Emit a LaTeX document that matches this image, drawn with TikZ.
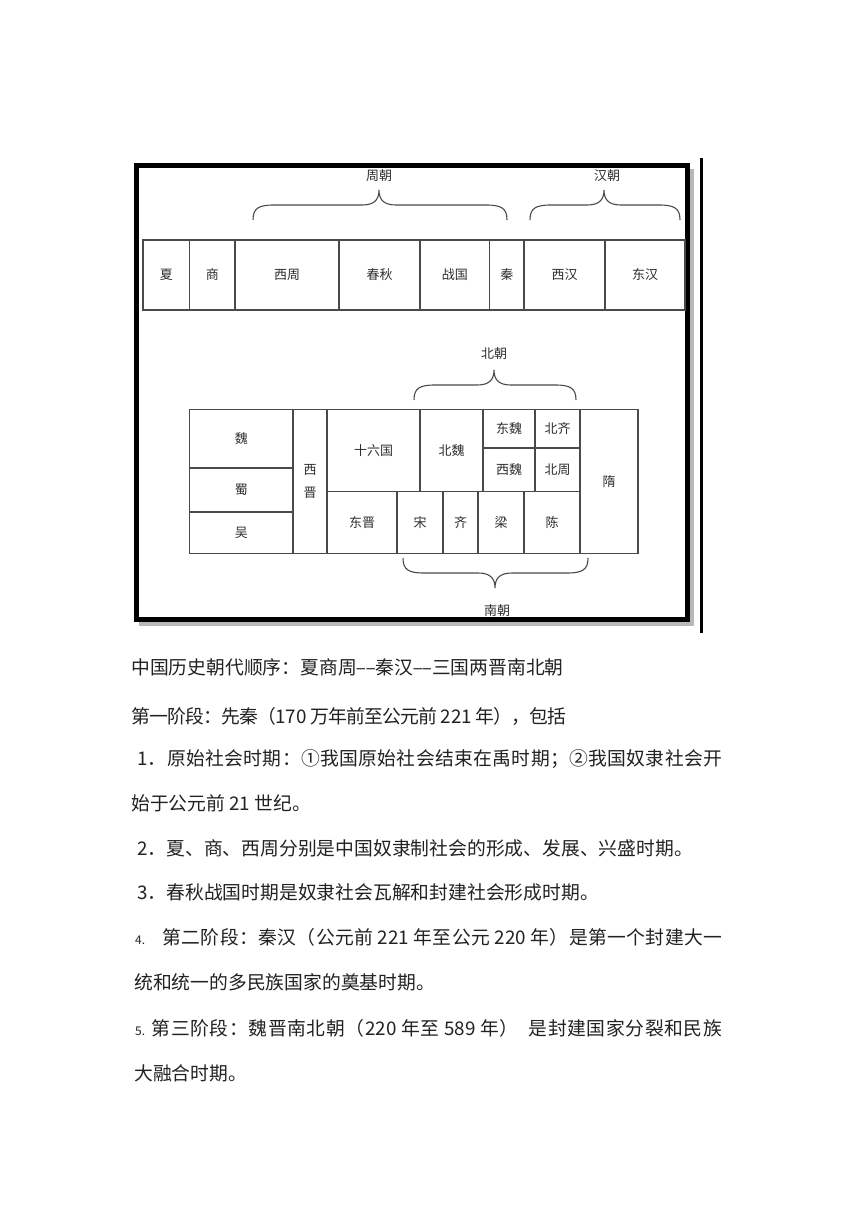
\documentclass[tikz,border=0pt]{standalone}
\usepackage{fontspec}
\setmainfont{Noto Sans CJK SC}
\definecolor{ink}{HTML}{222222}
\definecolor{tabline}{HTML}{4A4A4A}
\definecolor{tabtext}{HTML}{2E2E2E}
\makeatletter
\newcommand\spreadline[2]{\hbox to #1{\@tfor\sp@x:=#2\do{\sp@x\hskip 0pt plus 1fil minus 0.8pt\relax}\unskip}}
\makeatother
\newcommand\twodash{\makebox[0.5em]{\scalebox{0.56}[1]{—}}\makebox[0.5em]{\scalebox{0.56}[1]{—}}}
\tikzset{
  cell/.style={draw=tabline, line width=1.1pt, rectangle, inner sep=0pt, font=\fontsize{13}{15}\selectfont, text=tabtext},
  lab/.style={inner sep=0pt, font=\fontsize{13}{15}\selectfont, text=tabtext},
  brace/.style={draw=tabline, line width=1.1pt},
  txt/.style={anchor=west, inner sep=0pt, font=\fontsize{18.8}{22}\selectfont, text=ink}
}
\begin{document}
\begin{tikzpicture}[x=1pt,y=-1pt]
\fill[white] (0,0) rectangle (860,1216);
\useasboundingbox (0,0) rectangle (860,1216);

% frame with shadow
\draw[line width=4pt, black!28] (692,169) -- (692,624) -- (139,624);
\draw[line width=5pt, black] (136.5,165.5) rectangle (687.5,619.5);
\draw[line width=2.5pt, black] (701.5,158) -- (701.5,633);

% top row
\node[cell, minimum width=46.5pt, minimum height=70pt] (xia) at (166.25,275) {夏};
\node[cell, minimum width=45.5pt, minimum height=70pt] (shang) at (212.25,275) {商};
\node[cell, minimum width=104pt, minimum height=70pt] (xizhou) at (287,275) {西周};
\node[cell, minimum width=81pt, minimum height=70pt] (chunqiu) at (379.5,275) {春秋};
\node[cell, minimum width=69.5pt, minimum height=70pt] (zhanguo) at (454.75,275) {战国};
\node[cell, minimum width=34.5pt, minimum height=70pt] (qin) at (506.75,275) {秦};
\node[cell, minimum width=81pt, minimum height=70pt] (xihan) at (564.5,275) {西汉};
\node[cell, minimum width=80pt, minimum height=70pt] (donghan) at (645,275) {东汉};

% top braces
\draw[brace] (253,220) .. controls (253,208) and (259,205) .. (274,205) -- (362,205) .. controls (374,205) and (379,200) .. (379,190) .. controls (379,200) and (384,205) .. (396,205) -- (486,205) .. controls (501,205) and (507,208) .. (507,220);
\node[lab] (zhouchao) at (379,176) {周朝};
\draw[brace] (530,220) .. controls (530,208) and (536,205) .. (551,205) -- (587,205) .. controls (599,205) and (604,200) .. (604,190) .. controls (604,200) and (609,205) .. (621,205) -- (659,205) .. controls (674,205) and (680,208) .. (680,220);
\node[lab] (hanchao) at (607,176) {汉朝};

% lower table
\node[cell, minimum width=103.5pt, minimum height=58.5pt] (wei) at (241.25,438.75) {魏};
\node[cell, minimum width=103.5pt, minimum height=44pt] (shu) at (241.25,490) {蜀};
\node[cell, minimum width=103.5pt, minimum height=41.5pt] (wu) at (241.25,532.75) {吴};
\node[cell, minimum width=34pt, minimum height=144pt, align=center, font=\fontsize{13}{23}\selectfont] (xijin) at (310,481.5) {西\\晋};
\node[cell, minimum width=93pt, minimum height=82pt] (shiliu) at (373.5,450.5) {十六国};
\node[cell, minimum width=63pt, minimum height=82pt] (beiwei) at (451.5,450.5) {北魏};
\node[cell, minimum width=52pt, minimum height=38.5pt] (dongwei) at (509,428.75) {东魏};
\node[cell, minimum width=52pt, minimum height=43.5pt] (xiwei) at (509,469.75) {西魏};
\node[cell, minimum width=45pt, minimum height=38.5pt] (beiqi) at (557.5,428.75) {北齐};
\node[cell, minimum width=45pt, minimum height=43.5pt] (beizhou) at (557.5,469.75) {北周};
\node[cell, minimum width=58pt, minimum height=144pt] (sui) at (609,481.5) {隋};
\node[cell, minimum width=70pt, minimum height=62pt] (dongjin) at (362,522.5) {东晋};
\node[cell, minimum width=46pt, minimum height=62pt] (song) at (420,522.5) {宋};
\node[cell, minimum width=35pt, minimum height=62pt] (qi) at (460.5,522.5) {齐};
\node[cell, minimum width=46pt, minimum height=62pt] (liang) at (501,522.5) {梁};
\node[cell, minimum width=56pt, minimum height=62pt] (chen) at (552,522.5) {陈};

% lower braces
\draw[brace] (414,400) .. controls (414,388) and (420,385) .. (435,385) -- (477,385) .. controls (489,385) and (494,380) .. (494,370) .. controls (494,380) and (499,385) .. (511,385) -- (555,385) .. controls (570,385) and (576,388) .. (576,400);
\node[lab] (beichao) at (494,354) {北朝};
\draw[brace] (403,558) .. controls (403,570) and (409,573) .. (424,573) -- (478,573) .. controls (490,573) and (495,578) .. (495,588) .. controls (495,578) and (500,573) .. (512,573) -- (567,573) .. controls (582,573) and (588,570) .. (588,558);
\node[lab] (nanchao) at (497,611) {南朝};

% text
\node[txt] (l1) at (131,667) {中国历史朝代顺序：夏商周\twodash 秦汉\twodash 三国两晋南北朝};
\node[txt] (l2) at (131,716) {\spreadline{434pt}{第一阶段：先秦（{170\hskip 4.5pt}万年前至公元前{\hskip 4.5pt 221\hskip 4.5pt}年），包括}};
\node[txt] (l3) at (137,759) {\spreadline{585pt}{1．原始社会时期：①我国原始社会结束在禹时期；②我国奴隶社会开}};
\node[txt] (l4) at (131,803) {始于公元前 21 世纪。};
\node[txt] (l5) at (137,848) {2．夏、商、西周分别是中国奴隶制社会的形成、发展、兴盛时期。};
\node[txt] (l6) at (137,892) {3．春秋战国时期是奴隶社会瓦解和封建社会形成时期。};
\node[txt] (l7) at (135,937) {\spreadline{587pt}{{{\fontsize{12}{14}\selectfont 4.}\hskip 17pt }第二阶段：秦汉（公元前{ 221 }年至公元{ 220 }年）是第一个封建大一}};
\node[txt] (l8) at (134,982) {统和统一的多民族国家的奠基时期。};
\node[txt] (l9) at (135,1028) {\spreadline{587pt}{{{\fontsize{12}{14}\selectfont 5.}\hskip 6pt }第三阶段：魏晋南北朝（{220 }年至{ 589 }年）{\hskip 9pt}是封建国家分裂和民族}};
\node[txt] (l10) at (134,1073) {大融合时期。};
\end{tikzpicture}
\end{document}
